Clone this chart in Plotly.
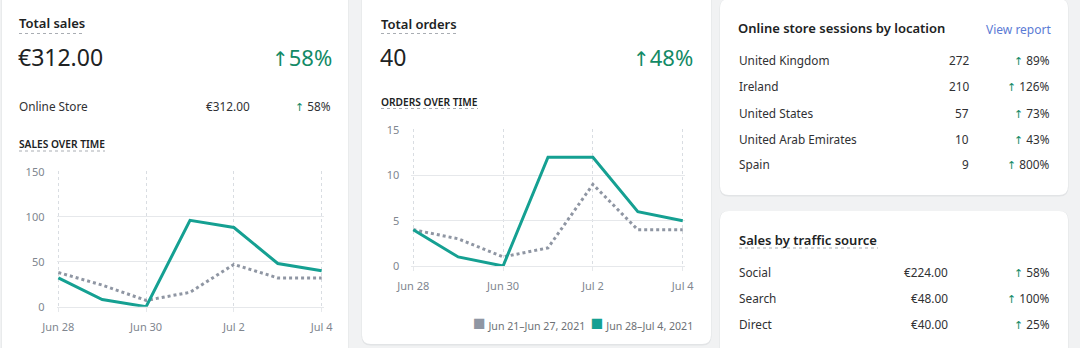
import plotly.graph_objects as go

# ---------------- data ----------------
dates = ["2021-06-28", "2021-06-29", "2021-06-30", "2021-07-01", "2021-07-02", "2021-07-03", "2021-07-04"]
tick_dates = ["2021-06-28", "2021-06-30", "2021-07-02", "2021-07-04"]
tick_labels = ["Jun 28", "Jun 30", "Jul 2", "Jul 4"]
series_names = ["Jun 21–Jun 27, 2021", "Jun 28–Jul 4, 2021"]

sales_previous = [38, 24, 7, 16, 47, 32, 32]
sales_current = [32, 8, 0, 96, 88, 48, 40]
orders_previous = [4, 3, 1, 2, 9, 4, 4]
orders_current = [4, 1, 0, 12, 12, 6, 5]

total_sales = "€312.00"
total_sales_change = 58
channel_names = ["Online Store"]
channel_sales = ["€312.00"]
channel_change = [58]
total_orders = "40"
total_orders_change = 48

locations = ["United Kingdom", "Ireland", "United States", "United Arab Emirates", "Spain"]
location_sessions = [272, 210, 57, 10, 9]
location_change = [89, 126, 73, 43, 800]

traffic_sources = ["Social", "Search", "Direct"]
traffic_sales = ["€224.00", "€48.00", "€40.00"]
traffic_change = [58, 100, 25]

# ---------------- style ----------------
W, H = 1080, 348
FONT = "Noto Sans"
ARROW_FONT = "DejaVu Sans"
TEAL = "#15a092"
GREY_LINE = "#8f96a3"
GREEN = "#138a66"
DARK = "#202223"
BODY = "#303133"
AXIS_TXT = "#80868f"
GRID = "#e6e8eb"
VGRID = "#d9dde2"
BG = "#f1f2f3"
BODY_SIZE = 11.8


def px(x):
    return x / W


def py(y):
    return 1 - y / H


fig = go.Figure()

# line traces
fig.add_trace(go.Scatter(x=dates, y=sales_previous, mode="lines", name=series_names[0],
                         line=dict(color=GREY_LINE, width=3, dash="dot"), xaxis="x", yaxis="y",
                         showlegend=False, cliponaxis=False))
fig.add_trace(go.Scatter(x=dates, y=sales_current, mode="lines", name=series_names[1],
                         line=dict(color=TEAL, width=3), xaxis="x", yaxis="y",
                         showlegend=False, cliponaxis=False))
fig.add_trace(go.Scatter(x=dates, y=orders_previous, mode="lines", name=series_names[0],
                         line=dict(color=GREY_LINE, width=3, dash="dot"), xaxis="x2", yaxis="y2",
                         showlegend=False, cliponaxis=False))
fig.add_trace(go.Scatter(x=dates, y=orders_current, mode="lines", name=series_names[1],
                         line=dict(color=TEAL, width=3), xaxis="x2", yaxis="y2",
                         showlegend=False, cliponaxis=False))


# ---------------- cards ----------------
def rounded(x0, y0, x1, y1, r=9):
    X0, X1 = px(x0), px(x1)
    Y0, Y1 = py(y0), py(y1)
    rx, ry = r / W, r / H
    return (f"M {X0 + rx} {Y0} L {X1 - rx} {Y0} Q {X1} {Y0} {X1} {Y0 - ry} "
            f"L {X1} {Y1 + ry} Q {X1} {Y1} {X1 - rx} {Y1} "
            f"L {X0 + rx} {Y1} Q {X0} {Y1} {X0} {Y1 + ry} "
            f"L {X0} {Y0 - ry} Q {X0} {Y0} {X0 + rx} {Y0} Z")


cards = [(2, -12, 348, 362), (362, -12, 711, 344), (720, -1, 1068, 195), (720, 211, 1068, 362)]
shapes = []
for (a, b, c, d) in cards:
    shapes.append(dict(type="path", path=rounded(a - 0.5, b, c + 0.5, d + 1.5), xref="paper", yref="paper",
                       fillcolor="#e2e4e6", line=dict(width=0), layer="below"))
    shapes.append(dict(type="path", path=rounded(a, b, c, d), xref="paper", yref="paper",
                       fillcolor="#ffffff", line=dict(width=0), layer="below"))

# dotted underlines of titles
underlines = [(19, 85, 33.5), (19, 105, 151), (381, 457, 33.5), (381, 478, 108.5), (739, 878, 248)]
for (a, c, yy) in underlines:
    shapes.append(dict(type="line", x0=px(a), x1=px(c), y0=py(yy), y1=py(yy), xref="paper", yref="paper",
                       line=dict(color="#a9adb3", width=1, dash="dot")))

annotations = []


def txt(text, x, y, size=BODY_SIZE, color=BODY, anchor="left", weight="normal"):
    annotations.append(dict(text=text, x=px(x), y=py(y), xref="paper", yref="paper",
                            xanchor=anchor, yanchor="middle", showarrow=False,
                            borderpad=0, borderwidth=0,
                            font=dict(family=FONT, size=size, color=color, weight=weight)))


def up(v, big=False):
    if big:
        return f"<span style='font-family:{ARROW_FONT};font-size:20px'>↑</span>{v}%"
    return (f"<span style='color:{GREEN};font-family:{ARROW_FONT};font-size:11px'>↑</span> {v}%")


# card 1
txt("Total sales", 19, 23, 13, DARK, weight=600)
txt(total_sales, 18, 57, 23, DARK)
txt(up(total_sales_change, True), 332, 57, 22, GREEN, anchor="right")
txt(channel_names[0], 19, 106, BODY_SIZE, BODY)
txt(channel_sales[0], 250, 106, BODY_SIZE, BODY, anchor="right")
txt(up(channel_change[0]), 331, 106, BODY_SIZE, BODY, anchor="right")
txt("SALES OVER TIME", 19, 143.5, 10.2, DARK, weight=600)

# card 2
txt("Total orders", 381, 24, 13, DARK, weight=600)
txt(total_orders, 380, 57, 23, DARK)
txt(up(total_orders_change, True), 693, 57, 22, GREEN, anchor="right")
txt("ORDERS OVER TIME", 381, 101.5, 10.2, DARK, weight=600)

# legend (below orders chart)
leg = (f"<span style='color:{GREY_LINE};font-size:21px'>■</span> {series_names[0]}  "
       f"<span style='color:{TEAL};font-size:21px'>■</span> {series_names[1]}")
annotations.append(dict(text=leg, x=px(693), y=py(322), xref="paper", yref="paper",
                        xanchor="right", yanchor="middle", showarrow=False,
                        borderpad=0, borderwidth=0,
                        font=dict(family=FONT, size=10.6, color="#6d7175")))

# card 3
txt("Online store sessions by location", 738, 28.5, 13, DARK, weight=600)
txt("View report", 1051, 29, 12, "#5b7bd5", anchor="right")
row_y = [60, 86, 112.5, 138.5, 164.5]
for name, val, ch, yy in zip(locations, location_sessions, location_change, row_y):
    txt(name, 739, yy)
    txt(str(val), 969, yy, anchor="right")
    txt(up(ch), 1050, yy, anchor="right")

# card 4
txt("Sales by traffic source", 739, 240, 13, DARK, weight=600)
row_y2 = [272, 298, 324]
for name, val, ch, yy in zip(traffic_sources, traffic_sales, traffic_change, row_y2):
    txt(name, 739, yy)
    txt(val, 948, yy, anchor="right")
    txt(up(ch), 1050, yy, anchor="right")

# ---------------- axes ----------------
# small padding (1 h) so that the dashed gridlines at the first/last day are drawn
x_range = ["2021-06-27 23:00", "2021-07-04 01:00"]
xaxis_common = dict(type="date", range=x_range, tickvals=tick_dates, ticktext=tick_labels,
                    showgrid=True, gridcolor=VGRID, griddash="3px,3px", gridwidth=1,
                    showline=True, linecolor=GRID, linewidth=1,
                    ticks="outside", ticklen=4, tickcolor=GRID,
                    tickfont=dict(family=FONT, size=11, color=AXIS_TXT),
                    ticklabelstandoff=6, zeroline=False, fixedrange=True, automargin=False)
yaxis_common = dict(showgrid=True, gridcolor=GRID, gridwidth=1, zeroline=False, ticks="",
                    tickfont=dict(family=FONT, size=11, color=AXIS_TXT), ticklabelstandoff=11,
                    showline=False, fixedrange=True, automargin=False)

fig.update_layout(
    width=W, height=H, margin=dict(l=0, r=0, t=0, b=0, pad=0, autoexpand=False),
    paper_bgcolor=BG, plot_bgcolor="rgba(0,0,0,0)",
    showlegend=False,
    shapes=shapes, annotations=annotations,
    xaxis=dict(domain=[px(58.3 - 1.8), px(321.7 + 1.8)], anchor="y", **xaxis_common),
    yaxis=dict(domain=[py(306.7), py(170.8)], anchor="x", range=[0, 151], tickvals=[0, 50, 100, 150],
               **yaxis_common),
    xaxis2=dict(domain=[px(413.3 - 1.9), px(682.7 + 1.9)], anchor="y2", **xaxis_common),
    yaxis2=dict(domain=[py(266), py(129.1)], anchor="x2", range=[0, 15.1], tickvals=[0, 5, 10, 15],
                **yaxis_common),
)

fig.write_html("out.html")
